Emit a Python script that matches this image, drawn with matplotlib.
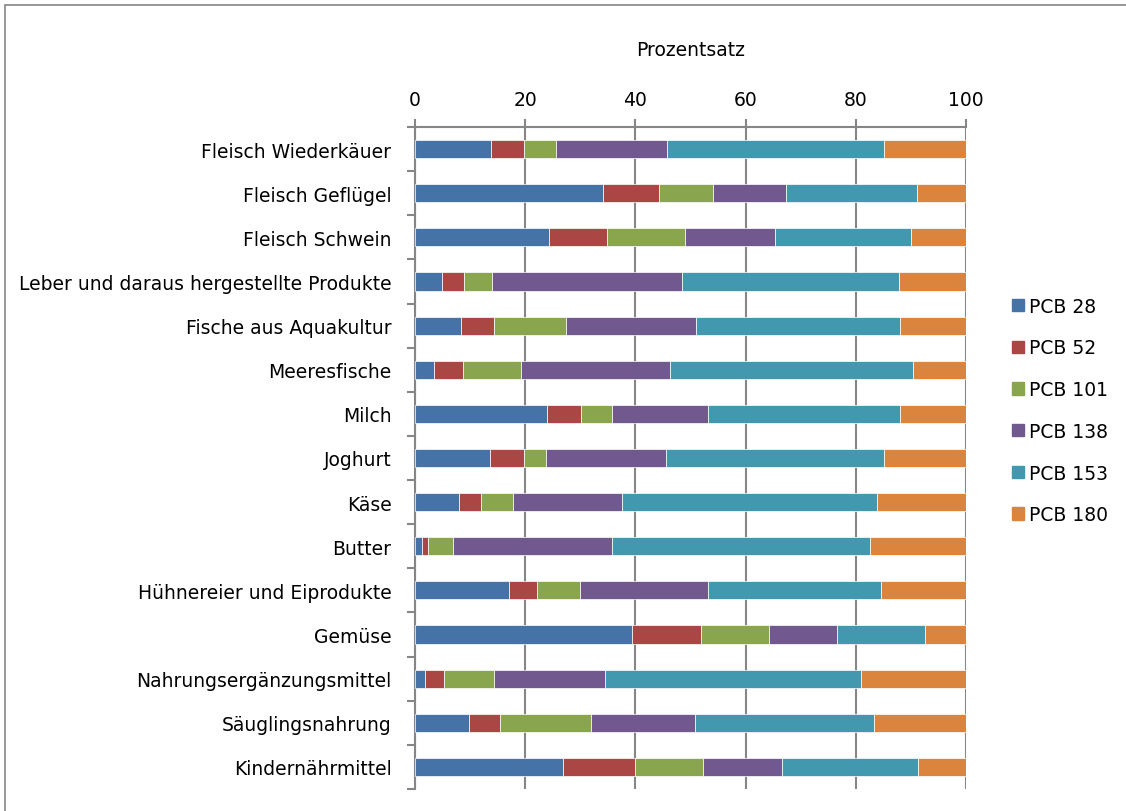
import matplotlib
matplotlib.use("Agg")
import matplotlib.pyplot as plt
import matplotlib.patches as mpatches
import numpy as np

categories = [
    "Fleisch Wiederkäuer", "Fleisch Geflügel", "Fleisch Schwein",
    "Leber und daraus hergestellte Produkte", "Fische aus Aquakultur",
    "Meeresfische", "Milch", "Joghurt", "Käse", "Butter",
    "Hühnereier und Eiprodukte", "Gemüse", "Nahrungsergänzungsmittel",
    "Säuglingsnahrung", "Kindernährmittel",
]
series_names = ["PCB 28", "PCB 52", "PCB 101", "PCB 138", "PCB 153", "PCB 180"]

pcb28  = [13.8, 34.2, 24.4, 4.9, 8.3, 3.4, 24.0, 13.6, 8.0, 1.2, 17.1, 39.3, 1.8, 9.8, 26.8]
pcb52  = [6.0, 10.0, 10.4, 4.0, 6.1, 5.3, 6.1, 6.1, 3.9, 1.1, 5.1, 12.6, 3.5, 5.6, 13.2]
pcb101 = [5.7, 9.8, 14.2, 5.0, 13.0, 10.6, 5.6, 4.0, 5.8, 4.6, 7.7, 12.3, 9.1, 16.5, 12.3]
pcb138 = [20.2, 13.4, 16.4, 34.5, 23.6, 26.9, 17.5, 21.8, 19.9, 28.9, 23.2, 12.4, 20.1, 18.9, 14.3]
pcb153 = [39.5, 23.7, 24.7, 39.5, 37.1, 44.2, 34.9, 39.7, 46.2, 46.8, 31.5, 16.0, 46.5, 32.5, 24.6]
pcb180 = [14.8, 8.9, 9.9, 12.1, 11.9, 9.6, 11.9, 14.8, 16.2, 17.4, 15.4, 7.4, 19.0, 16.7, 8.8]

xticks = [0, 20, 40, 60, 80, 100]
colors = ["#4572A7", "#AA4643", "#89A54E", "#71588F", "#4198AF", "#DB843D"]

plt.rcParams['font.family'] = ['DejaVu Sans']
FS = 13.5

W, H = 1126, 812
fig = plt.figure(figsize=(W / 100, H / 100), dpi=100)
ax = fig.add_axes([415 / W, 1 - 790 / H, (966 - 415) / W, (790 - 128) / H])

grey = "#868686"
y = np.arange(len(categories))
left = np.zeros(len(categories))
series = [pcb28, pcb52, pcb101, pcb138, pcb153, pcb180]
for name, vals, c in zip(series_names, series, colors):
    vals = np.array(vals)
    ax.barh(y, vals, left=left, height=0.41, color=c, edgecolor="white",
            linewidth=0.5, label=name, zorder=3)
    left += vals

ax.set_xlim(0, 100)
ax.set_ylim(len(categories) - 0.5, -0.5)
ax.xaxis.tick_top()
ax.set_xticks(xticks)
ax.set_xticklabels([str(t) for t in xticks])
ax.tick_params(axis="x", direction="out", length=6, width=1.5, color=grey,
               labelsize=FS, pad=7)
ax.set_yticks(y)
ax.set_yticklabels(categories)
ax.set_yticks(np.arange(-0.5, len(categories), 1), minor=True)
ax.tick_params(axis="y", which="major", length=0, labelsize=FS, pad=17)
ax.tick_params(axis="y", which="minor", direction="out", length=6, width=1.5, color=grey)
ax.grid(axis="x", color=grey, linewidth=1.5, zorder=0)
ax.set_axisbelow(True)
for s in ["right", "bottom"]:
    ax.spines[s].set_visible(False)
for s in ["top", "left"]:
    ax.spines[s].set_color(grey)
    ax.spines[s].set_linewidth(1.5)

fig.text((415 + 966) / 2 / W, 1 - 50 / H, "Prozentsatz", ha="center", va="center", fontsize=FS)

handles = [mpatches.Patch(color=c, label=n) for c, n in zip(colors, series_names)]
fig.legend(handles=handles, loc="center left", bbox_to_anchor=(995 / W, 1 - 411.5 / H),
           frameon=False, fontsize=FS, labelspacing=1.21, handlelength=0.64,
           handleheight=0.64, handletextpad=0.27)

border = mpatches.Rectangle((5 / W, -0.05), 1.1, 1 - 6 / H + 0.05, transform=fig.transFigure,
                            fill=False, edgecolor=grey, linewidth=1.2)
fig.patches.append(border)

fig.savefig("out.png", dpi=100)
